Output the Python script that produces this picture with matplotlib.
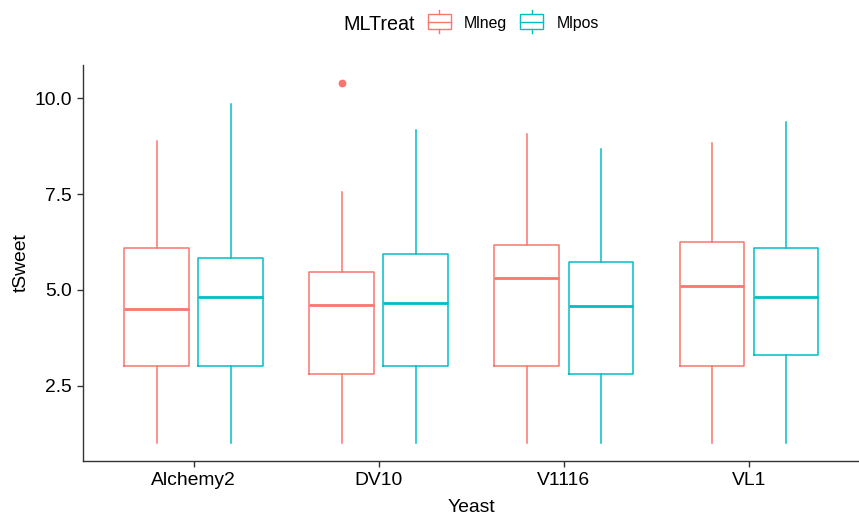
import matplotlib
matplotlib.use("Agg")
import matplotlib.pyplot as plt
from matplotlib.patches import Rectangle

plt.rcParams['font.family'] = ['Liberation Sans', 'DejaVu Sans']

# ---- data ----
yeast = ["Alchemy2", "DV10", "V1116", "VL1"]
treat = ["Mlneg", "Mlpos"]
colors = ["#F8766D", "#00BFC4"]

whislo_neg = [1.0, 1.0, 1.0, 1.0]
q1_neg = [3.0, 2.8, 3.0, 3.0]
med_neg = [4.5, 4.6, 5.3, 5.1]
q3_neg = [6.1, 5.47, 6.16, 6.25]
whishi_neg = [8.88, 7.56, 9.06, 8.84]
fliers_neg = [[], [10.4], [], []]

whislo_pos = [1.0, 1.0, 1.0, 1.0]
q1_pos = [3.0, 3.0, 2.81, 3.3]
med_pos = [4.82, 4.65, 4.58, 4.81]
q3_pos = [5.83, 5.93, 5.73, 6.1]
whishi_pos = [9.85, 9.16, 8.68, 9.38]
fliers_pos = [[], [], [], []]

yticks = [2.5, 5.0, 7.5, 10.0]
ytick_labels = ["2.5", "5.0", "7.5", "10.0"]

# ---- figure ----
W, H = 859, 514
DPI = 100
fig = plt.figure(figsize=(W / DPI, H / DPI), dpi=DPI)

pl, pr, pt, pb = 82.7, 860.0, 65.0, 461.0
ax = fig.add_axes([pl / W, (H - pb) / H, (pr - pl) / W, (pb - pt) / H])

series = [
    (whislo_neg, q1_neg, med_neg, q3_neg, whishi_neg, fliers_neg, -0.2, colors[0]),
    (whislo_pos, q1_pos, med_pos, q3_pos, whishi_pos, fliers_pos, 0.2, colors[1]),
]
for lo, q1, med, q3, hi, fl, off, col in series:
    stats = []
    for i in range(len(yeast)):
        stats.append(dict(whislo=lo[i], q1=q1[i], med=med[i], q3=q3[i],
                          whishi=hi[i], fliers=fl[i]))
    ax.bxp(stats, positions=[i + off for i in range(len(yeast))], widths=0.35,
           showcaps=False, patch_artist=False, manage_ticks=False,
           boxprops=dict(color=col, linewidth=1.1),
           medianprops=dict(color=col, linewidth=2.0),
           whiskerprops=dict(color=col, linewidth=1.1),
           flierprops=dict(marker='o', markerfacecolor=col, markeredgecolor=col,
                           markersize=4.6, linestyle='none'))

all_lo = min(whislo_neg + whislo_pos)
all_hi = max([v for f in fliers_neg + fliers_pos for v in f] + whishi_neg + whishi_pos)
pad = 0.05 * (all_hi - all_lo)
ax.set_ylim(all_lo - pad, all_hi + pad)
ax.set_xlim(-0.6, len(yeast) - 1 + 0.6)

ax.set_xticks(range(len(yeast)))
ax.set_xticklabels(yeast)
ax.set_yticks(yticks)
ax.set_yticklabels(ytick_labels)
ax.tick_params(axis='both', length=4.3, width=1.0, color='#333333',
               labelsize=13.9, labelcolor='black', pad=3.5)
for s in ['top', 'right']:
    ax.spines[s].set_visible(False)
for s in ['left', 'bottom']:
    ax.spines[s].set_color('#333333')
    ax.spines[s].set_linewidth(1.0)

# axis titles
fig.text(471 / W, (H - 511.7) / H, "Yeast", ha='center', va='baseline',
         fontsize=13.9, color='black')
fig.text(26 / W, (H - 263) / H, "tSweet", ha='center', va='baseline',
         rotation=90, rotation_mode='anchor', fontsize=13.9, color='black')

# legend (pixel-coordinate overlay)
lax = fig.add_axes([0, 0, 1, 1])
lax.set_xlim(0, W)
lax.set_ylim(H, 0)
lax.axis('off')
lax.text(343.3, 30, "MLTreat", ha='left', va='baseline', fontsize=14.2, color='black')
key_x = [427.7, 520.0]
lab_x = [463.3, 556.7]
for i, name in enumerate(treat):
    x0 = key_x[i]
    x1 = x0 + 23.3
    xc = (x0 + x1) / 2
    lax.add_patch(Rectangle((x0, 14), x1 - x0, 15.3, fill=False,
                            edgecolor=colors[i], linewidth=1.0))
    lax.plot([xc, xc], [10, 14], color=colors[i], linewidth=1.0)
    lax.plot([xc, xc], [29.3, 33.3], color=colors[i], linewidth=1.0)
    lax.plot([x0, x1], [21.7, 21.7], color=colors[i], linewidth=1.0)
    lax.text(lab_x[i], 28, name, ha='left', va='baseline', fontsize=11.4, color='black')

fig.savefig("out.png", dpi=DPI)
